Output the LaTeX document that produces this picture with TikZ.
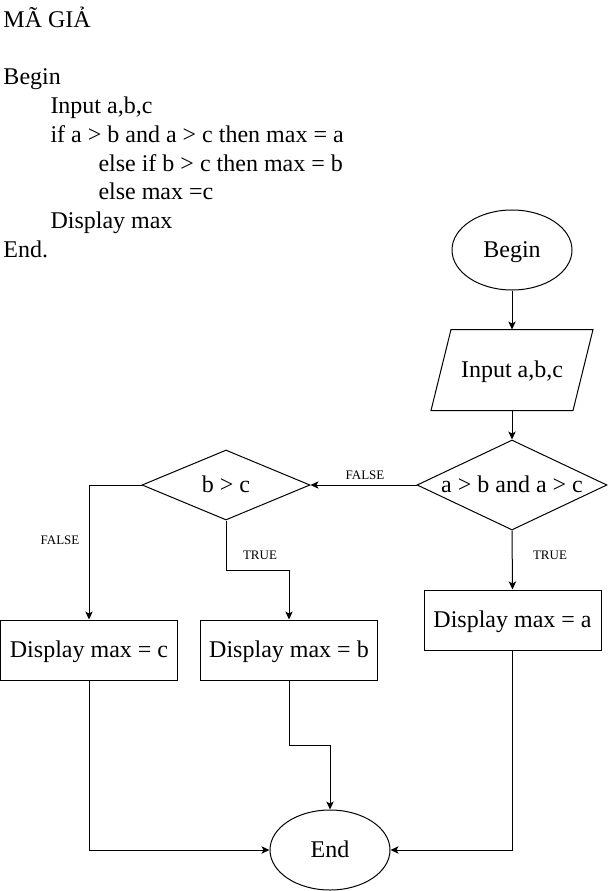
\documentclass[tikz,border=0pt]{standalone}
\usepackage{fontspec}
\setmainfont{Liberation Serif}
\usepackage{tikz}
\usetikzlibrary{calc,positioning,arrows.meta,shapes}

\begin{document}
\begin{tikzpicture}[x=0.75pt,y=-0.75pt,line width=0.75pt,>={Stealth[length=6pt,width=5.5pt,inset=1.5pt]},
    txt/.style={font=\fontsize{18}{21.5}\selectfont},
    code/.style={txt,anchor=base west,inner sep=0pt},
    shp/.style={txt,text height=15pt,text depth=4pt},
    lbl/.style={font=\fontsize{9.75}{12}\selectfont,inner sep=0pt},
    term/.style={shp,draw,ellipse,minimum width=90pt,minimum height=60pt},
    io/.style={shp,rectangle,minimum width=105.75pt,minimum height=60pt},
    cond/.style={shp,draw,diamond,inner sep=-2pt},
    box/.style={shp,draw,rectangle,minimum width=132.75pt,minimum height=45pt}]
      \useasboundingbox (0,0) rectangle (609,891);

      % pseudocode
      \node[code] (p0) at (3,28) {MÃ GIẢ};
      \node[code] (p1) at (3,85) {Begin};
      \node[code] (p2) at (50,113.7) {Input a,b,c};
      \node[code] (p3) at (50,142.4) {if a > b and a > c then max = a};
      \node[code] (p4) at (98,171.1) {else if b > c then max = b};
      \node[code] (p5) at (98,199.8) {else max =c};
      \node[code] (p6) at (50,228.5) {Display max};
      \node[code] (p7) at (3,257.2) {End.};

      % flowchart
      \node[term] (beg) at (512,250) {Begin};
      \node[io] (inp) at (512,370) {Input a,b,c};
      \draw ($(inp.north west)+(10,0)$) -- ($(inp.north east)+(10,0)$) -- ($(inp.south east)+(-10,0)$) -- ($(inp.south west)+(-10,0)$) -- cycle;
      \node[cond,aspect=2.11,minimum width=142.5pt,minimum height=67.5pt] (c1) at (512,485) {a > b and a > c};
      \node[cond,aspect=2.4,minimum width=126pt,minimum height=52.5pt] (c2) at (226,485) {b > c};

      \node[box] (outa) at (512.5,620) {Display max = a};
      \node[box] (outc) at (89,650) {Display max = c};
      \node[box] (outb) at (289,650) {Display max = b};
      \node[term] (fin) at (330,850) {End};

      \node[lbl] (f1) at (365,475) {FALSE};
      \node[lbl] (f2) at (60,540) {FALSE};
      \node[lbl] (t1) at (550,555) {TRUE};
      \node[lbl] (t2) at (260,555) {TRUE};

      \draw[->] (beg) -- (inp);
      \draw[->] (inp) -- (c1);
      \draw[->] (c1.west) -- (c2.east);
      \draw[->] (c1.south) -- (outa.north);
      \draw[->] (c2.west) -| (outc.north);
      \draw[->] (c2.south) -- ++(0,50) -| (outb.north);
      \draw[->] (outc.south) |- (fin.west);
      \draw[->] (outb.south) -- ++(0,65) -| (fin.north);
      \draw[->] (outa.south) |- (fin.east);
     \end{tikzpicture}
\end{document}
